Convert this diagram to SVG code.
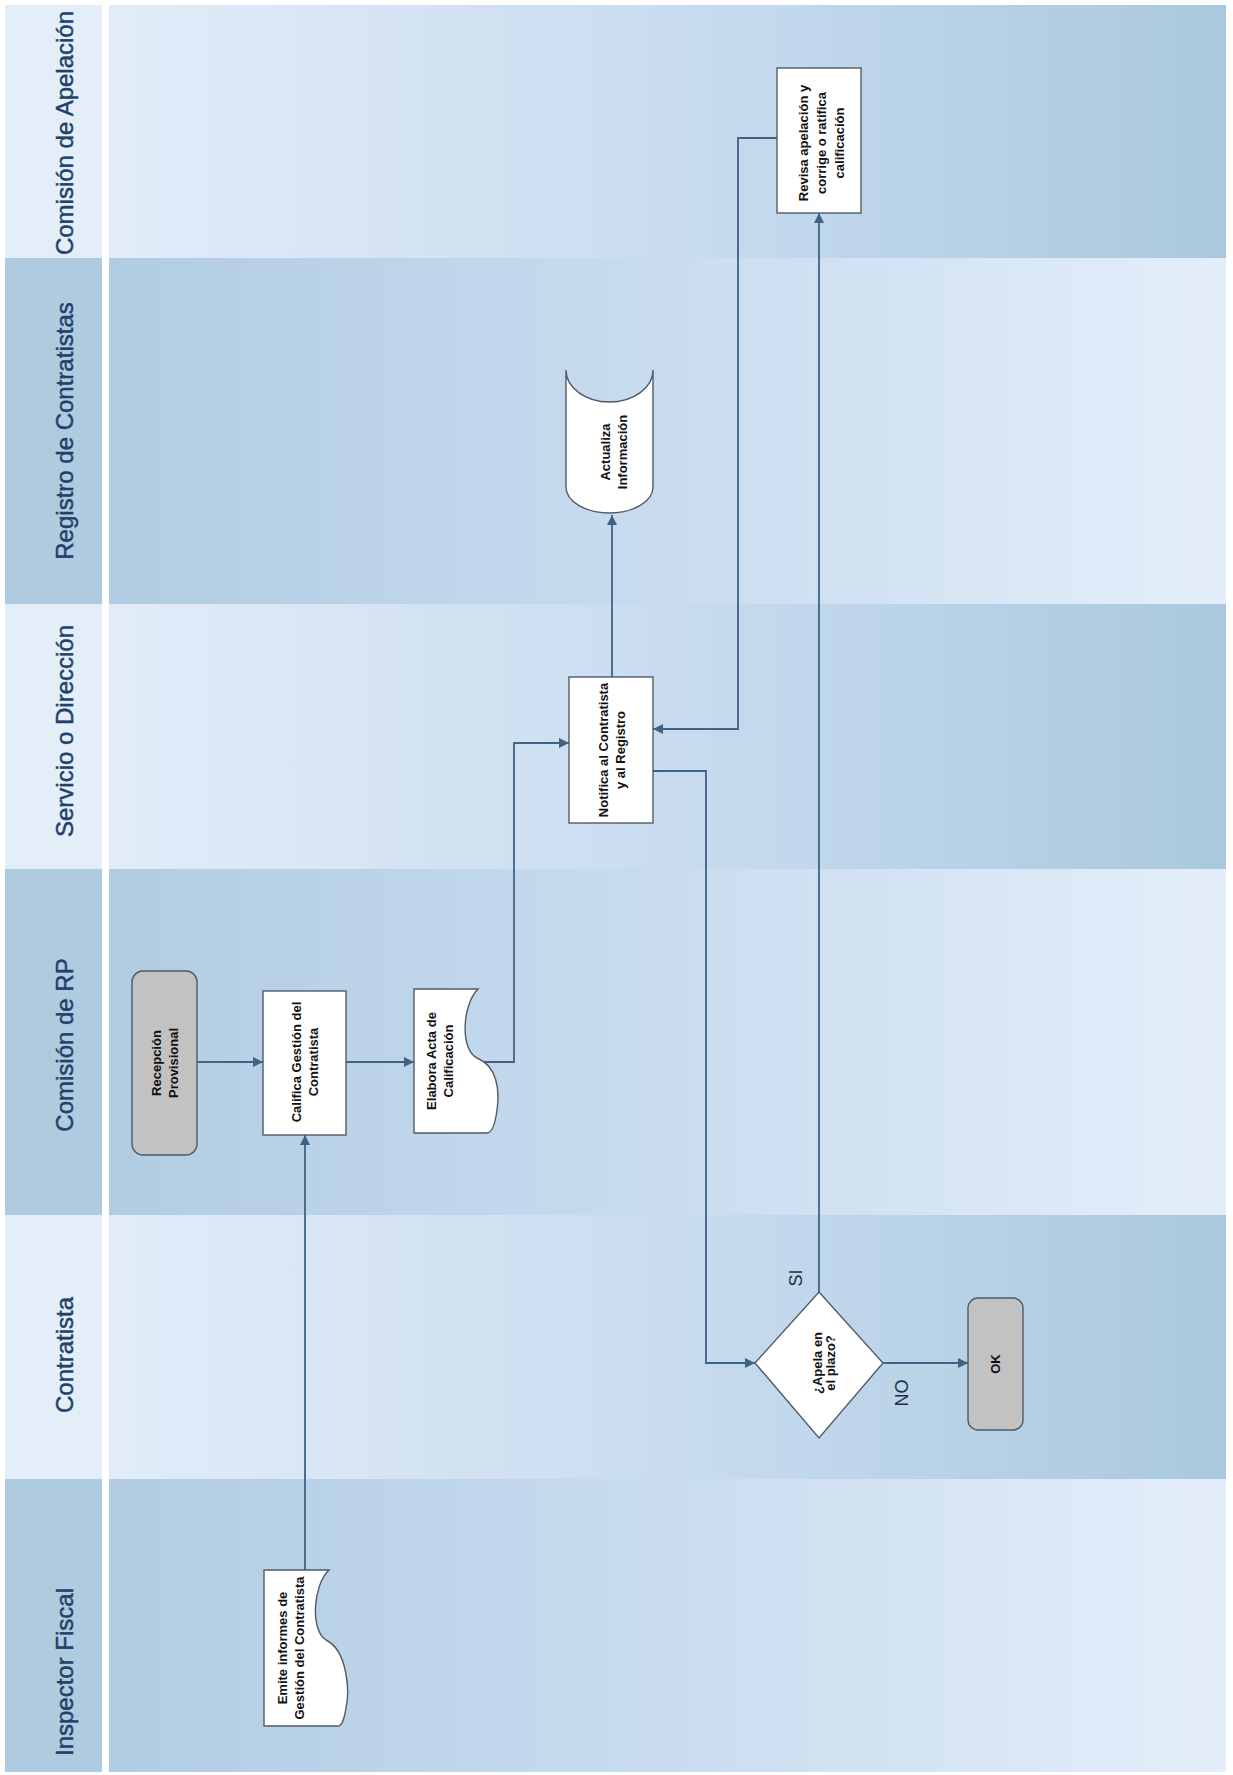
<svg xmlns="http://www.w3.org/2000/svg" width="1233" height="1775" viewBox="0 0 1233 1775">
  <defs>
    <linearGradient id="laneLight" x1="0" y1="0" x2="1" y2="0">
      <stop offset="0" stop-color="#e2ecf9"/>
      <stop offset="0.5" stop-color="#c9dcef"/>
      <stop offset="1" stop-color="#a9c8de"/>
    </linearGradient>
    <linearGradient id="laneDark" x1="0" y1="0" x2="1" y2="0">
      <stop offset="0" stop-color="#b1cce2"/>
      <stop offset="0.5" stop-color="#c9dcef"/>
      <stop offset="1" stop-color="#e4eefa"/>
    </linearGradient>
    <marker id="arrow" viewBox="0 0 10 10" refX="10" refY="5" markerWidth="11" markerHeight="10" markerUnits="userSpaceOnUse" orient="auto">
      <path d="M0,0 L10,5 L0,10 Z" fill="#3f6385"/>
    </marker>
    <style>
      .hdrLight { fill: #e4eef9; }
      .hdrDark { fill: #afcbe0; }
      .lane-title { font-family: "Liberation Sans", Arial, sans-serif; font-size: 24px; fill: #22416a; stroke: #22416a; stroke-width: 0.45; text-anchor: middle; }
      .box { fill: #ffffff; stroke: #4f5b68; stroke-width: 1.4; }
      .term { fill: #c2c2c2; stroke: #4f5b68; stroke-width: 1.4; }
      .lbl { font-family: "Liberation Sans", Arial, sans-serif; font-size: 13px; font-weight: bold; fill: #111111; text-anchor: middle; }
      .branch { font-family: "Liberation Sans", Arial, sans-serif; font-size: 18px; fill: #1c2f44; text-anchor: middle; }
      .conn { fill: none; stroke: #3f6385; stroke-width: 1.8; marker-end: url(#arrow); }
    </style>
  </defs>

  <rect width="1233" height="1775" fill="#ffffff"/>

  <!-- swimlane bodies -->
  <g id="lanes">
    <rect x="109" y="5" width="1117" height="253" fill="url(#laneLight)"/>
    <rect x="109" y="258" width="1117" height="346" fill="url(#laneDark)"/>
    <rect x="109" y="604" width="1117" height="265" fill="url(#laneLight)"/>
    <rect x="109" y="869" width="1117" height="346" fill="url(#laneDark)"/>
    <rect x="109" y="1215" width="1117" height="264" fill="url(#laneLight)"/>
    <rect x="109" y="1479" width="1117" height="293" fill="url(#laneDark)"/>
  </g>

  <!-- swimlane headers -->
  <g id="headers">
    <rect class="hdrLight" x="5" y="5" width="97" height="253"/>
    <rect class="hdrDark" x="5" y="258" width="97" height="346"/>
    <rect class="hdrLight" x="5" y="604" width="97" height="265"/>
    <rect class="hdrDark" x="5" y="869" width="97" height="346"/>
    <rect class="hdrLight" x="5" y="1215" width="97" height="264"/>
    <rect class="hdrDark" x="5" y="1479" width="97" height="293"/>
    <text class="lane-title" transform="translate(73,133) rotate(-90)">Comisión de Apelación</text>
    <text class="lane-title" transform="translate(73,431) rotate(-90)">Registro de Contratistas</text>
    <text class="lane-title" transform="translate(73,731) rotate(-90)">Servicio o Dirección</text>
    <text class="lane-title" transform="translate(73,1045) rotate(-90)">Comisión de RP</text>
    <text class="lane-title" transform="translate(73,1355) rotate(-90)">Contratista</text>
    <text class="lane-title" transform="translate(73,1672) rotate(-90)">Inspector Fiscal</text>
  </g>

  <!-- connectors -->
  <g id="connectors">
    <path class="conn" d="M197,1062 H263"/>
    <path class="conn" d="M346,1062 H414"/>
    <path class="conn" d="M305,1570 V1135"/>
    <path class="conn" d="M480,1062 H514 V743 H569"/>
    <path class="conn" d="M612,677 V515"/>
    <path class="conn" d="M777,138 H738 V729 H653"/>
    <path class="conn" d="M653,771 H706 V1363 H755"/>
    <path class="conn" d="M819,1292 V213"/>
    <path class="conn" d="M883,1363 H968"/>
    <text class="branch" transform="translate(802,1278) rotate(-90)">SI</text>
    <text class="branch" transform="translate(908,1393) rotate(-90)">NO</text>
  </g>

  <!-- process nodes -->
  <g id="recepcion">
    <rect class="term" x="132" y="971" width="65" height="184" rx="11"/>
    <text class="lbl" transform="translate(164.5,1063) rotate(-90)"><tspan x="0" y="-4">Recepción</tspan><tspan x="0" y="13">Provisional</tspan></text>
  </g>

  <g id="califica">
    <rect class="box" x="263" y="991" width="83" height="144"/>
    <text class="lbl" transform="translate(304.5,1062) rotate(-90)"><tspan x="0" y="-4">Califica Gestión del</tspan><tspan x="0" y="13">Contratista</tspan></text>
  </g>

  <g id="elabora">
    <path class="box" d="M414,989 H478 C462,1005 460,1050 477,1058 C497,1066 500,1090 497,1110 C495,1125 492,1133 487,1133 H414 Z"/>
    <text class="lbl" transform="translate(440,1061) rotate(-90)"><tspan x="0" y="-4">Elabora Acta de</tspan><tspan x="0" y="13">Calificación</tspan></text>
  </g>

  <g id="emite">
    <path class="box" d="M264,1570 H329 C313,1585 310,1630 326,1640 C347,1650 350,1690 346,1708 C344,1720 342,1726 338,1726 H264 Z"/>
    <text class="lbl" transform="translate(291,1648) rotate(-90)"><tspan x="0" y="-4">Emite informes de</tspan><tspan x="0" y="13">Gestión del Contratista</tspan></text>
  </g>

  <g id="notifica">
    <rect class="box" x="569" y="677" width="84" height="146"/>
    <text class="lbl" transform="translate(611.5,750) rotate(-90)"><tspan x="0" y="-4">Notifica al Contratista</tspan><tspan x="0" y="13">y al Registro</tspan></text>
  </g>

  <g id="actualiza">
    <path class="box" d="M566,370 A43.5,32 0 0 0 653,370 V487 A43.5,26 0 0 1 566,487 Z"/>
    <text class="lbl" transform="translate(614,452) rotate(-90)"><tspan x="0" y="-4">Actualiza</tspan><tspan x="0" y="13">Información</tspan></text>
  </g>

  <g id="revisa">
    <rect class="box" x="777" y="68" width="84" height="145"/>
    <text class="lbl" transform="translate(821,143) rotate(-90)"><tspan x="0" y="-13">Revisa apelación y</tspan><tspan x="0" y="5">corrige o ratifica</tspan><tspan x="0" y="23">calificación</tspan></text>
  </g>

  <g id="apela">
    <path class="box" d="M755,1363 L819,1292 L883,1363 L819,1438 Z"/>
    <text class="lbl" transform="translate(824,1363) rotate(-90)"><tspan x="0" y="-2">¿Apela en</tspan><tspan x="0" y="11">el plazo?</tspan></text>
  </g>

  <g id="ok">
    <rect class="term" x="968" y="1298" width="55" height="132" rx="10"/>
    <text class="lbl" transform="translate(995,1364) rotate(-90)"><tspan x="0" y="4.5">OK</tspan></text>
  </g>
</svg>
